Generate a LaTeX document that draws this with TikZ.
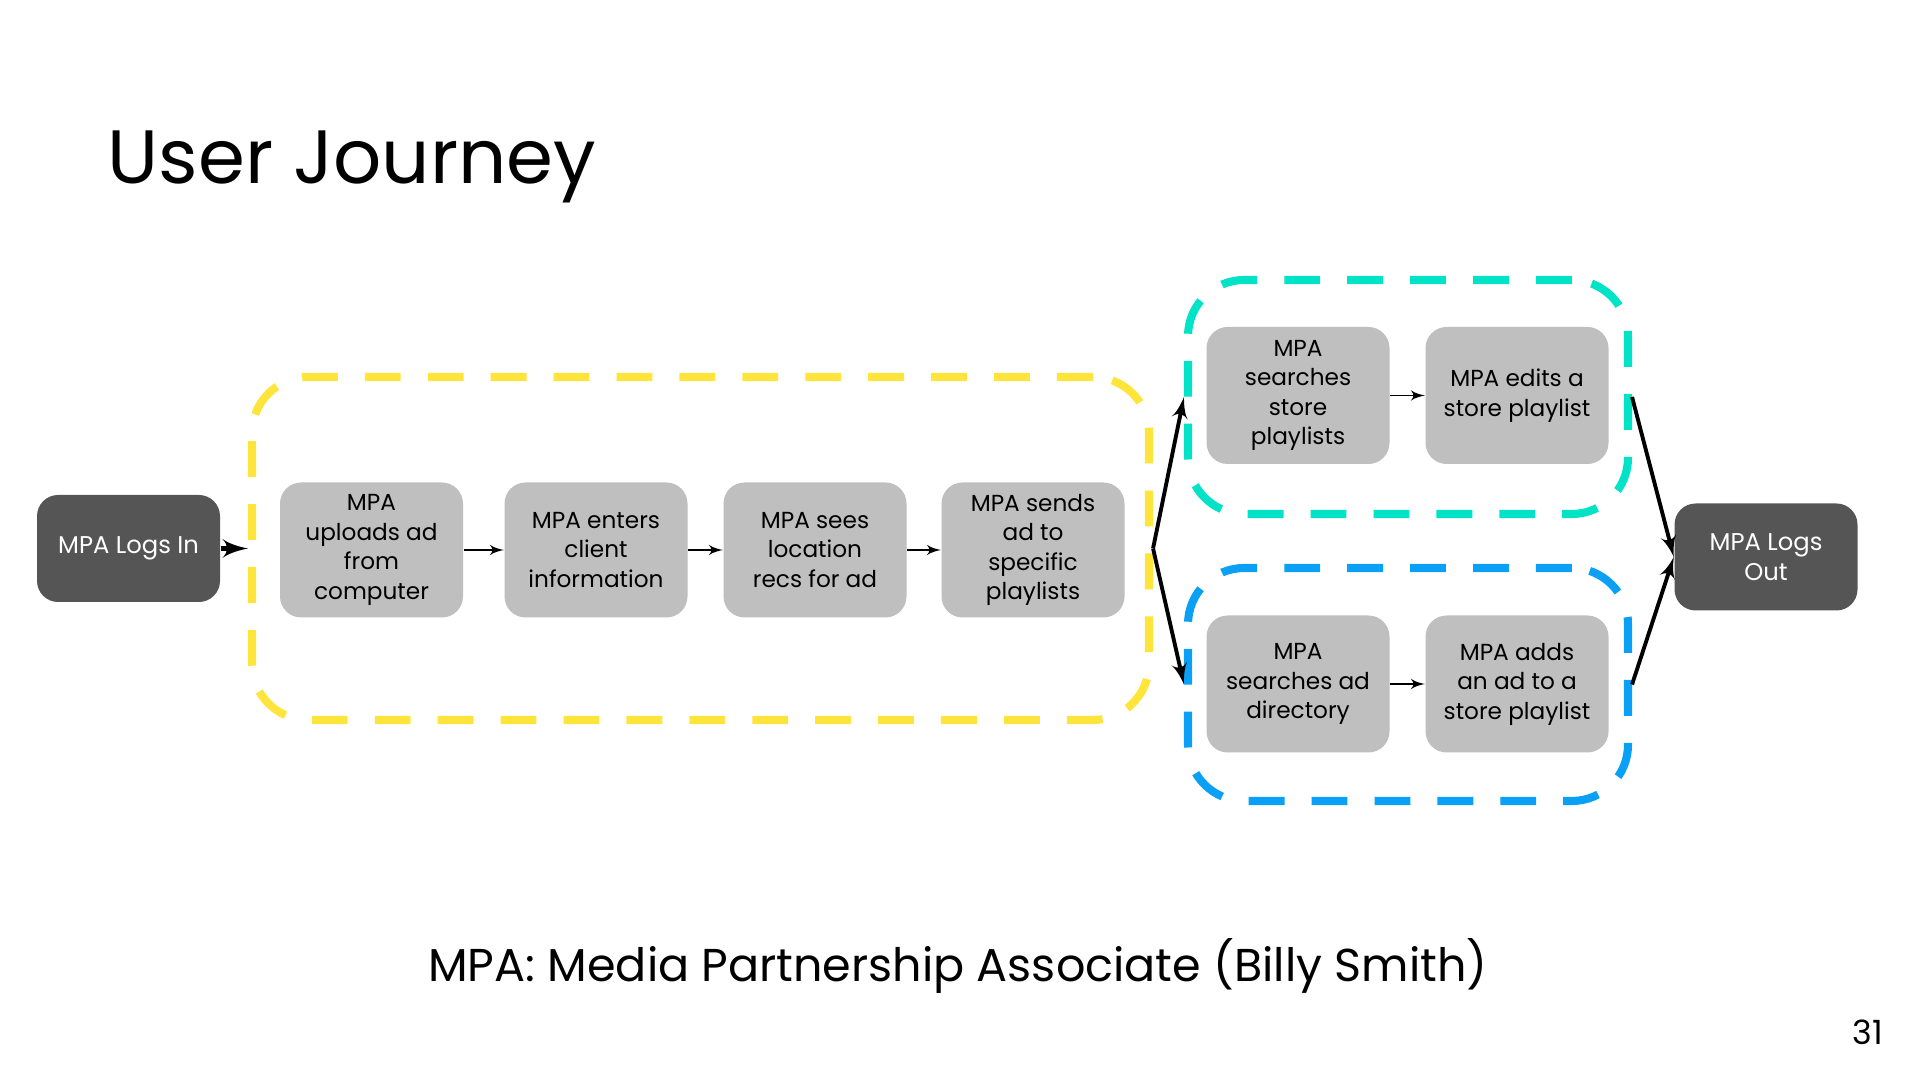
\documentclass[tikz,border=0pt]{standalone}
\usepackage{fontspec}
\setmainfont{Poppins}
\usepackage{tikz}
\usetikzlibrary{arrows,positioning}

\definecolor{dark}{HTML}{555555}
\definecolor{light}{HTML}{BFBFBF}
\definecolor{ylw}{HTML}{FFE43C}
\definecolor{teal}{HTML}{00E3C7}
\definecolor{sky}{HTML}{0AA0F6}

\begin{document}
\begin{tikzpicture}[endblock/.style={shape=rectangle,rounded corners=6pt,fill=dark,text=white,inner sep=1pt,
							minimum width=1.83cm,minimum height=1.07cm,align=center,font=\fontsize{6.9}{8.4}\selectfont},
						stepblock/.style={shape=rectangle,rounded corners=6pt,fill=light,inner sep=1pt,
							minimum width=1.83cm,minimum height=1.35cm,align=center,font=\fontsize{6.6}{8.4}\selectfont},
						frame/.style={shape=rectangle,rounded corners=16pt,line width=2.3pt,
							dash pattern=on 10.2pt off 7.7pt},>=latex']
		\useasboundingbox (0,0) rectangle (19.2,10.8);

		\node[anchor=base west,inner sep=0pt,font=\fontsize{21.5}{26}\selectfont] (title) at (1.07,8.96) {User Journey};

		\node[frame,draw=ylw,minimum width=8.97cm,minimum height=3.43cm] (plan) at (7.005,5.315) {};
		\node[frame,draw=teal,minimum width=4.40cm,minimum height=2.34cm] (edit) at (14.08,6.83) {};
		\node[frame,draw=sky,minimum width=4.40cm,minimum height=2.33cm] (add) at (14.08,3.955) {};

		\node[endblock] (login) at (1.285,5.315) {MPA Logs In};
		\node[endblock] (logout) at (17.66,5.23) {MPA Logs\\Out};

		\node[stepblock] (upload) at (3.715,5.30) {MPA\\uploads ad\\from\\computer};
		\node[stepblock] (client) at (5.96,5.30) {MPA enters\\client\\information};
		\node[stepblock] (recs)   at (8.15,5.30) {MPA sees\\location\\recs for ad};
		\node[stepblock] (sends)  at (10.33,5.30) {MPA sends\\ad to\\specific\\playlists};

		\node[stepblock,minimum height=1.37cm] (storesearch) at (12.98,6.845) {MPA\\searches\\store\\playlists};
		\node[stepblock,minimum height=1.37cm] (storeedit)   at (15.17,6.845) {MPA edits a\\store playlist};
		\node[stepblock,minimum height=1.37cm] (adsearch)    at (12.98,3.96) {MPA\\searches ad\\directory};
		\node[stepblock,minimum height=1.37cm] (adadd)       at (15.17,3.96) {MPA adds\\an ad to a\\store playlist};

		\draw [->,line width=1.5pt] (login) to (plan.west);
		\draw [->,thin] (upload) to (client);
		\draw [->,thin] (client) to (recs);
		\draw [->,thin] (recs) to (sends);
		\draw [->,thin] (storesearch) to (storeedit);
		\draw [->,thin] (adsearch) to (adadd);

		\draw [->,line width=1.1pt] (plan.east) to (edit.west);
		\draw [->,line width=1.1pt] (plan.east) to (add.west);
		\draw [->,line width=1.1pt] (edit.east) to (logout.west);
		\draw [->,line width=1.1pt] (add.east) to (logout.west);

		\node[anchor=base,font=\fontsize{13.1}{16}\selectfont] (legend) at (9.58,0.98) {MPA: Media Partnership Associate (Billy Smith)};
		\node[font=\fontsize{9.5}{11}\selectfont] (page) at (18.68,0.48) {31};
	\end{tikzpicture}
\end{document}
